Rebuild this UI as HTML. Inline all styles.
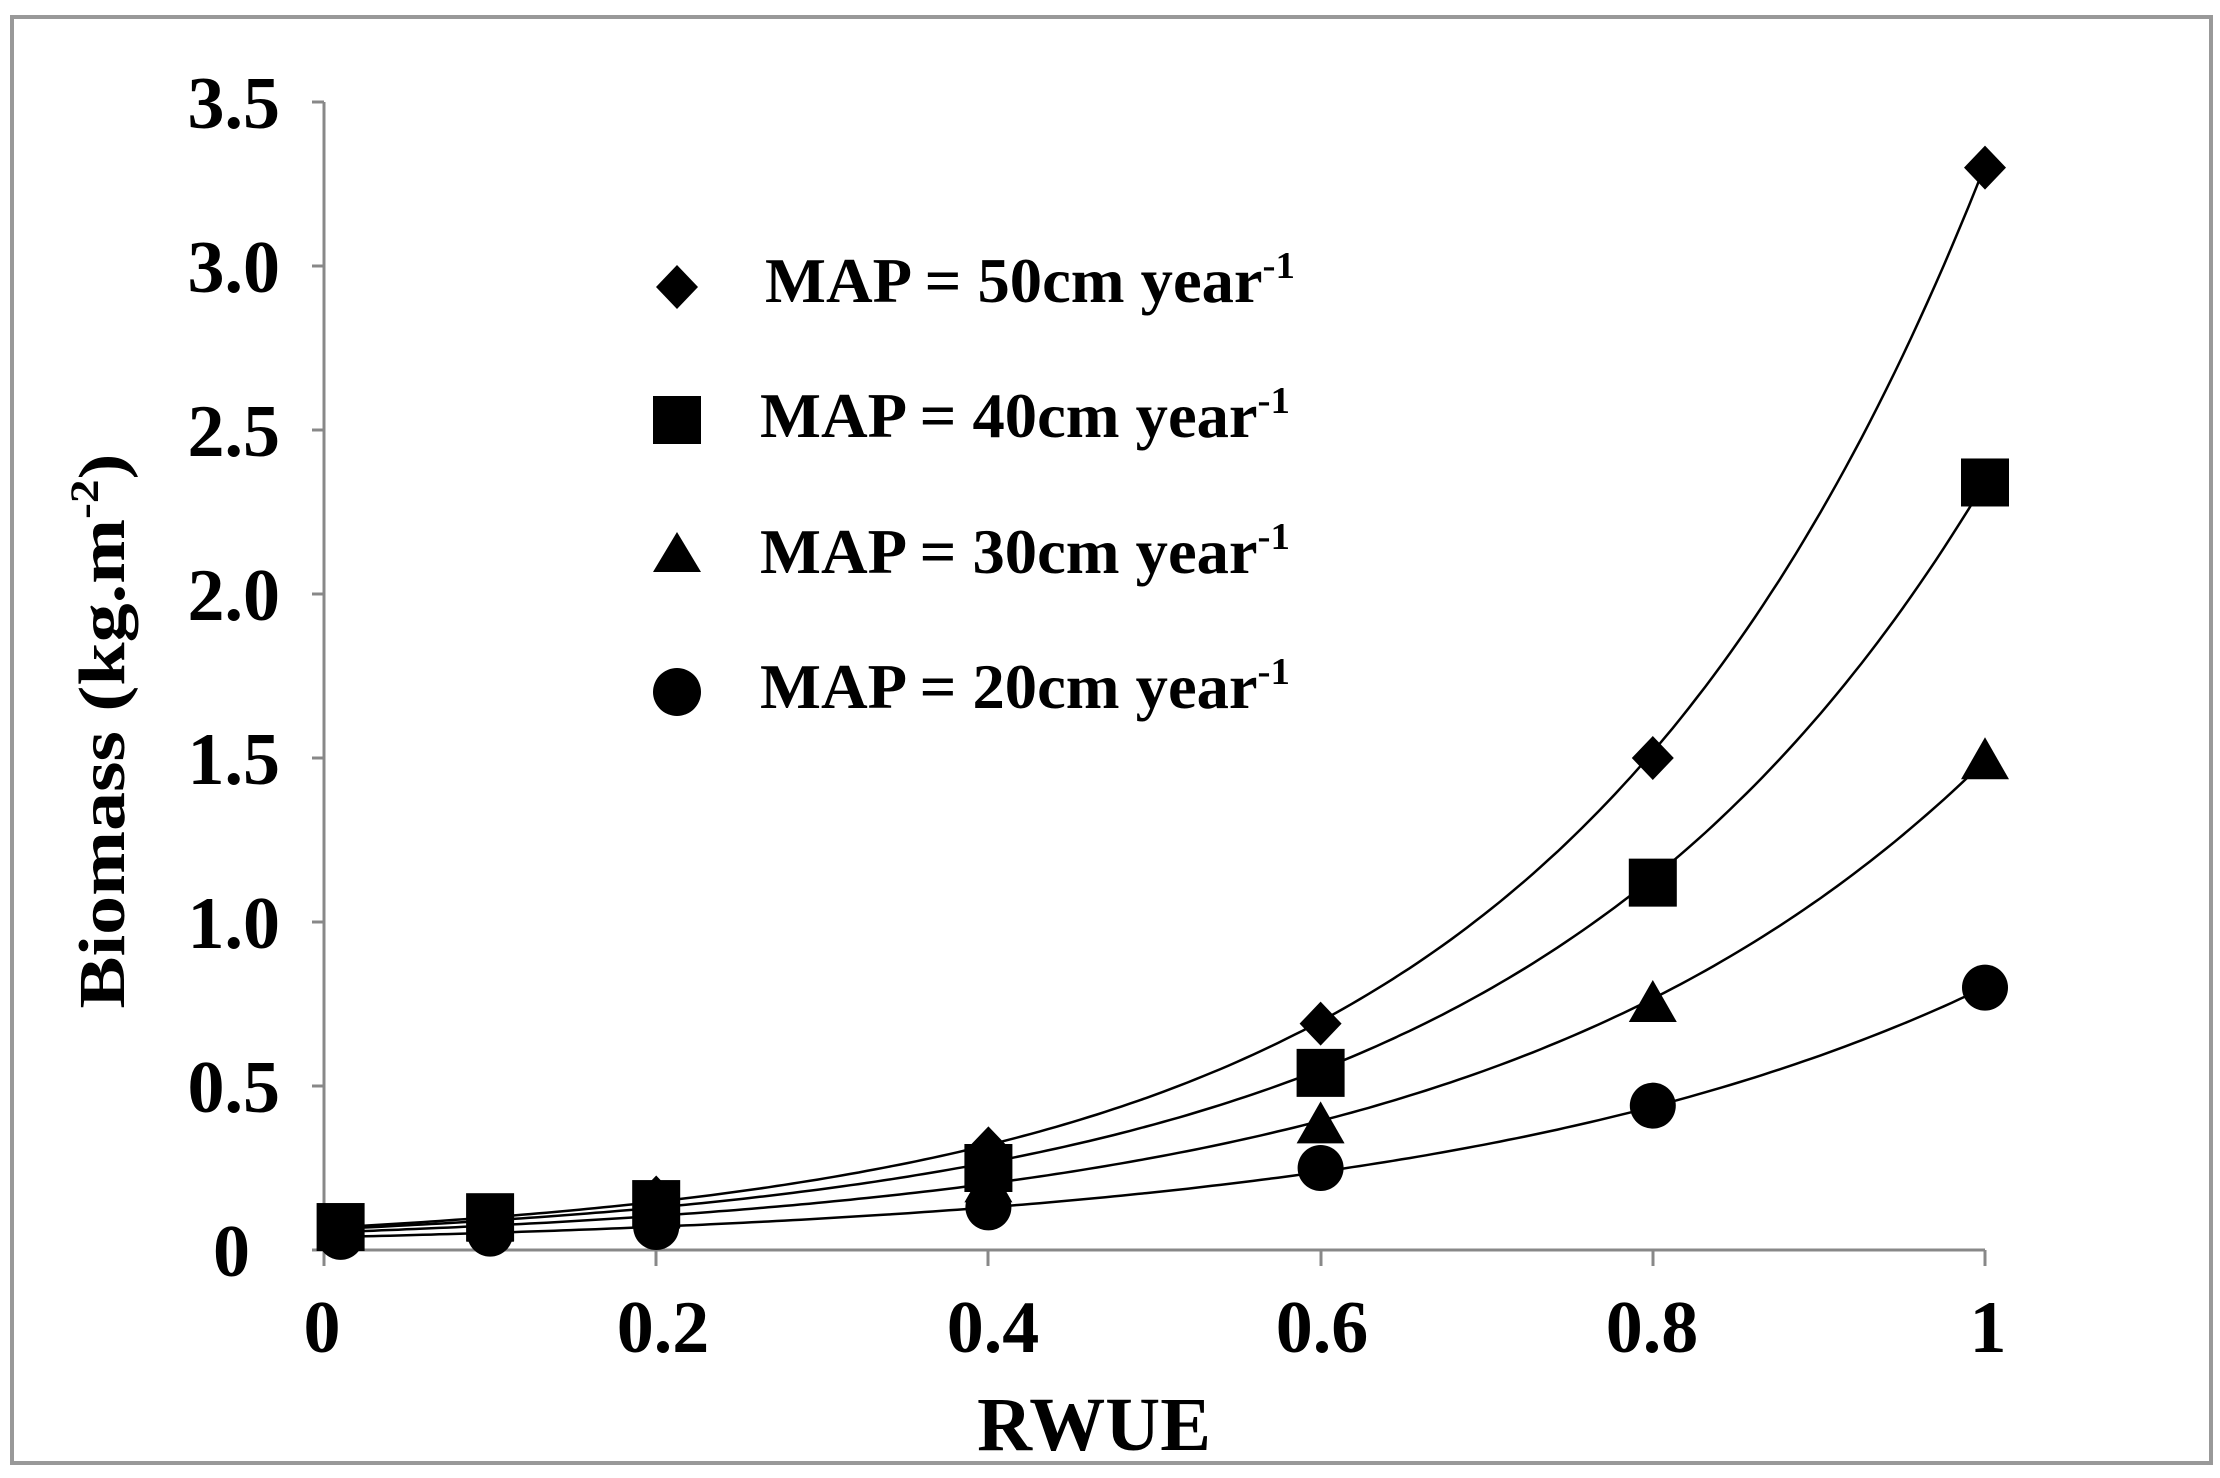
<!DOCTYPE html>
<html><head><meta charset="utf-8"><style>
html,body{margin:0;padding:0;background:#fff}
svg{display:block}
text{font-family:"Liberation Serif",serif;font-weight:bold;fill:#000}
</style></head><body>
<svg id="s" width="2220" height="1478" viewBox="0 0 2220 1478" xmlns="http://www.w3.org/2000/svg">
<rect x="12" y="17" width="2199" height="1446" fill="#fff" stroke="#999" stroke-width="4"/>
<g stroke="#888" stroke-width="3" fill="none">
<line x1="324" y1="102" x2="324" y2="1250"/>
<line x1="324" y1="1250" x2="1985" y2="1250"/>
<line x1="312" y1="102" x2="324" y2="102"/>
<line x1="312" y1="266" x2="324" y2="266"/>
<line x1="312" y1="430" x2="324" y2="430"/>
<line x1="312" y1="594" x2="324" y2="594"/>
<line x1="312" y1="758" x2="324" y2="758"/>
<line x1="312" y1="922" x2="324" y2="922"/>
<line x1="312" y1="1086" x2="324" y2="1086"/>
<line x1="312" y1="1250" x2="324" y2="1250"/>
<line x1="324" y1="1250" x2="324" y2="1266"/>
<line x1="656" y1="1250" x2="656" y2="1266"/>
<line x1="988" y1="1250" x2="988" y2="1266"/>
<line x1="1321" y1="1250" x2="1321" y2="1266"/>
<line x1="1653" y1="1250" x2="1653" y2="1266"/>
<line x1="1985" y1="1250" x2="1985" y2="1266"/>
</g>
<g font-size="74" text-anchor="end">
<text x="280" y="128">3.5</text>
<text x="280" y="292">3.0</text>
<text x="280" y="456">2.5</text>
<text x="280" y="620">2.0</text>
<text x="280" y="784">1.5</text>
<text x="280" y="948">1.0</text>
<text x="280" y="1112">0.5</text>
<text x="250" y="1276">0</text>
</g>
<g font-size="74" text-anchor="middle">
<text x="322" y="1352">0</text>
<text x="663" y="1352">0.2</text>
<text x="993" y="1352">0.4</text>
<text x="1322" y="1352">0.6</text>
<text x="1652" y="1352">0.8</text>
<text x="1988" y="1352">1</text>
<text x="1094" y="1450" font-size="76">RWUE</text>
</g>
<text transform="translate(124,731) rotate(-90)" font-size="66" text-anchor="middle" textLength="555" lengthAdjust="spacingAndGlyphs">Biomass (kg.m<tspan font-size="40" dy="-26">-2</tspan><tspan dy="26">)</tspan></text>
<g font-size="63">
<text x="765" y="302" textLength="530" lengthAdjust="spacingAndGlyphs">MAP = 50cm year<tspan font-size="38" dy="-24">-1</tspan></text>
<text x="760" y="437" textLength="530" lengthAdjust="spacingAndGlyphs">MAP = 40cm year<tspan font-size="38" dy="-24">-1</tspan></text>
<text x="760" y="573" textLength="530" lengthAdjust="spacingAndGlyphs">MAP = 30cm year<tspan font-size="38" dy="-24">-1</tspan></text>
<text x="760" y="708" textLength="530" lengthAdjust="spacingAndGlyphs">MAP = 20cm year<tspan font-size="38" dy="-24">-1</tspan></text>
</g>
<g fill="#000">
<polygon points="677,265 698,287 677,309 656,287"/>
<rect x="653" y="396" width="48" height="48"/>
<polygon points="677,532 701,572 653,572"/>
<circle cx="677" cy="692" r="24"/>
</g>
<g id="plot"></g>
</svg>
<script>
var X=function(v){return 324+1661*v},Y=function(v){return 1250-328*v};
var g=document.getElementById("plot");
var xs=[0.01,0.1,0.2,0.4,0.6,0.8,1];
var S=[
 {a:0.0676,b:3.89,d:[0.07,0.1,0.16,0.31,0.69,1.5,3.3],m:"d"},
 {a:0.0627,b:3.62,d:[0.07,0.1,0.14,0.25,0.54,1.12,2.34],m:"s"},
 {a:0.0534,b:3.33,d:[0.06,0.08,0.12,0.2,0.38,0.75,1.49],m:"t"},
 {a:0.0387,b:3.03,d:[0.04,0.05,0.07,0.13,0.25,0.44,0.8],m:"c"}];
var h="";
S.forEach(function(s){
 var p="";for(var i=0;i<=200;i++){var v=0.01+0.99*i/200;p+=(i?"L":"M")+X(v).toFixed(1)+","+Y(s.a*Math.exp(s.b*v)).toFixed(1);}
 h+='<path d="'+p+'" fill="none" stroke="#000" stroke-width="2.5"/>';
});
S.forEach(function(s){
 xs.forEach(function(x,i){var cx=X(x),cy=Y(s.d[i]);
  if(s.m=="d")h+='<polygon points="'+cx+','+(cy-22)+' '+(cx+21)+','+cy+' '+cx+','+(cy+22)+' '+(cx-21)+','+cy+'"/>';
  if(s.m=="s")h+='<rect x="'+(cx-24)+'" y="'+(cy-24)+'" width="48" height="48"/>';
  if(s.m=="t")h+='<polygon points="'+cx+','+(cy-24)+' '+(cx+24)+','+(cy+18)+' '+(cx-24)+','+(cy+18)+'"/>';
  if(s.m=="c")h+='<circle cx="'+cx+'" cy="'+cy+'" r="23"/>';
 });
});
g.innerHTML=h;
</script>
</body></html>
